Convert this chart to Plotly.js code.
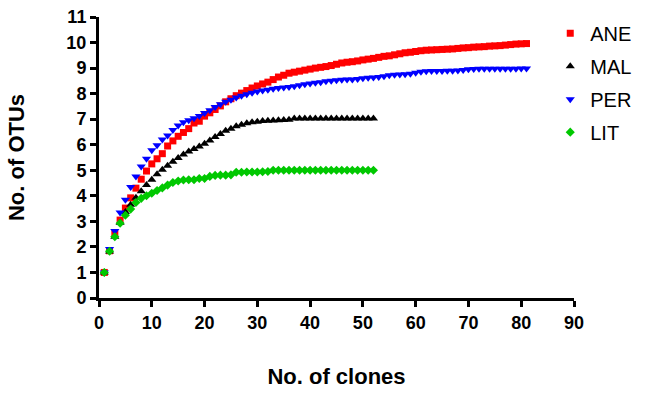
<!DOCTYPE html>
<html>
<head>
<meta charset="utf-8">
<script src="https://cdn.plot.ly/plotly-3.0.1.min.js"></script>
<style>
  html, body { margin: 0; padding: 0; background: #ffffff; }
  #chart { width: 650px; height: 395px; }
</style>
</head>
<body>
<div id="chart"></div>
<script>
// Clone counts (x) for each library
const clonesLong = [];
for (let i = 1; i <= 81; i++) clonesLong.push(i);
const clonesShort = clonesLong.slice(0, 52);

// Expected number of OTUs (rarefaction)
const ANE = [1.00,1.85,2.52,3.05,3.52,3.92,4.30,4.65,4.97,5.25,
             5.45,5.65,5.95,6.15,6.33,6.48,6.63,6.85,6.92,7.12,
             7.25,7.38,7.52,7.68,7.80,7.92,8.02,8.12,8.22,8.30,
             8.38,8.45,8.55,8.65,8.72,8.80,8.84,8.88,8.92,8.96,
             9.00,9.03,9.06,9.10,9.15,9.20,9.23,9.25,9.28,9.32,
             9.35,9.38,9.42,9.46,9.48,9.52,9.56,9.60,9.62,9.65,
             9.68,9.70,9.71,9.72,9.73,9.74,9.75,9.77,9.79,9.80,
             9.82,9.83,9.84,9.86,9.87,9.88,9.90,9.92,9.94,9.95,9.96];
const MAL = [1.00,1.82,2.40,2.95,3.37,3.65,3.92,4.18,4.42,4.63,
             4.84,5.02,5.18,5.33,5.48,5.62,5.73,5.83,5.93,6.04,
             6.17,6.30,6.42,6.55,6.63,6.72,6.78,6.84,6.88,6.90,
             6.93,6.94,6.95,6.96,6.97,6.98,7.03,7.03,7.03,7.03,
             7.03,7.03,7.03,7.03,7.03,7.03,7.03,7.03,7.03,7.03,
             7.03,7.03];
const PER = [1.00,1.92,2.62,3.35,3.85,4.35,4.76,5.15,5.45,5.78,
             5.98,6.20,6.36,6.58,6.75,6.88,6.96,7.04,7.12,7.24,
             7.35,7.48,7.58,7.68,7.76,7.85,7.92,7.98,8.03,8.08,
             8.12,8.15,8.19,8.22,8.24,8.26,8.29,8.33,8.37,8.40,
             8.43,8.45,8.48,8.50,8.52,8.54,8.55,8.55,8.57,8.60,
             8.62,8.63,8.65,8.68,8.72,8.74,8.75,8.76,8.78,8.82,
             8.86,8.88,8.89,8.89,8.89,8.90,8.90,8.91,8.93,8.95,
             8.96,8.97,8.97,8.97,8.97,8.97,8.97,8.97,8.97,8.98,8.98];
const LIT = [1.00,1.83,2.40,2.93,3.24,3.48,3.74,3.90,4.00,4.10,
             4.21,4.31,4.42,4.52,4.58,4.62,4.63,4.63,4.68,4.68,
             4.76,4.80,4.81,4.81,4.82,4.92,4.92,4.93,4.93,4.93,
             4.94,4.95,5.00,5.00,5.00,5.00,5.00,5.00,5.00,5.00,
             5.00,5.00,5.00,5.00,5.00,5.00,5.00,5.00,5.00,5.00,
             5.00,5.00];

const seriesNames = ['ANE', 'MAL', 'PER', 'LIT'];
const xTickVals = [0,10,20,30,40,50,60,70,80,90];
const yTickVals = [0,1,2,3,4,5,6,7,8,9,10,11];

const traces = [
  {x: clonesLong, y: ANE, name: seriesNames[0], legendgroup: 'g1', type: 'scatter', mode: 'markers',
   marker: {symbol: 'square', size: 7, color: '#ff0000'}},
  {x: clonesShort, y: MAL, name: seriesNames[1], legendgroup: 'g2', type: 'scatter', mode: 'markers',
   marker: {symbol: 'triangle-up', size: 8, color: '#000000'}},
  {x: clonesLong, y: PER, name: seriesNames[2], legendgroup: 'g3', type: 'scatter', mode: 'markers',
   marker: {symbol: 'triangle-down', size: 8, color: '#0000ff'}},
  {x: clonesShort, y: LIT, name: seriesNames[3], legendgroup: 'g4', type: 'scatter', mode: 'markers',
   marker: {symbol: 'diamond', size: 7, color: '#00c800'}}
];

const fontFam = '"Liberation Sans", Arial, sans-serif';
const layout = {
  width: 650, height: 395,
  margin: {l: 99, r: 76, t: 17, b: 97},
  paper_bgcolor: '#ffffff', plot_bgcolor: '#ffffff',
  showlegend: true,
  legend: {x: 0.95, xanchor: 'left', y: 1.012, yanchor: 'top',
           traceorder: 'grouped', tracegroupgap: 4,
           font: {family: fontFam, size: 20, color: '#000000'},
           bgcolor: 'rgba(0,0,0,0)'},
  xaxis: {
    range: [0, 90], tickvals: xTickVals, ticktext: xTickVals.map(String),
    showline: true, linewidth: 3, linecolor: '#000000',
    ticks: 'outside', ticklen: 6, tickwidth: 3, tickcolor: '#000000',
    showgrid: false, zeroline: false,
    tickfont: {family: fontFam, size: 18, color: '#000000', weight: 'bold'},
    title: {text: '<b>No. of clones</b>', standoff: 38,
            font: {family: fontFam, size: 22, color: '#000000'}}
  },
  yaxis: {
    range: [0, 11], tickvals: yTickVals, ticktext: yTickVals.map(String),
    showline: true, linewidth: 3, linecolor: '#000000',
    ticks: 'outside', ticklen: 6, tickwidth: 3, tickcolor: '#000000',
    showgrid: false, zeroline: false,
    tickfont: {family: fontFam, size: 18, color: '#000000', weight: 'bold'},
    title: {text: '<b>No. of OTUs</b>', standoff: 36,
            font: {family: fontFam, size: 22, color: '#000000'}}
  }
};

Plotly.newPlot('chart', traces, layout, {displayModeBar: false, staticPlot: true});
</script>
</body>
</html>
